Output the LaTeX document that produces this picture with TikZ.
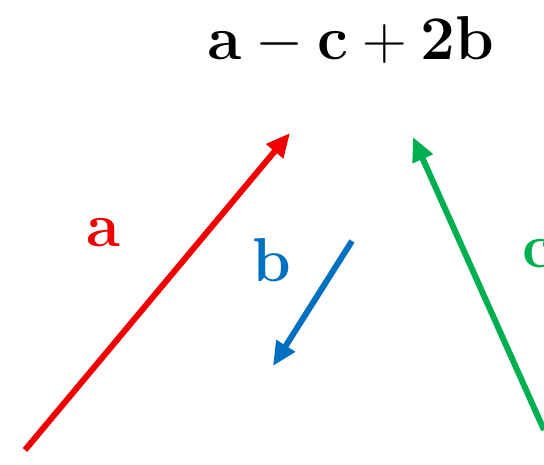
\RequirePackage{fix-cm}
\documentclass[tikz,border=0pt]{standalone}
\usetikzlibrary{arrows.meta}
\definecolor{vecred}{RGB}{240,0,0}
\definecolor{vecblue}{RGB}{0,112,192}
\definecolor{vecgreen}{RGB}{0,176,80}
\tikzset{
  vec/.style={line width=6pt, -{Triangle[length=24pt,width=21pt]}},
  vlabel/.style={inner sep=0pt, anchor=base, font=\fontsize{62}{70}\selectfont\bfseries}
}
\begin{document}
\begin{tikzpicture}[x=1pt,y=1pt]
\useasboundingbox (0,0) rectangle (544,464);
\node[vlabel] (sum) at (351,404) {$\mathbf{a}-\mathbf{c}+\mathbf{2b}$};
\coordinate (a0) at (25,14);
\coordinate (a1) at (290,331);
\coordinate (b0) at (352,223);
\coordinate (b1) at (273,98);
\coordinate (c0) at (544,34);
\coordinate (c1) at (413,327);
\draw[vec, vecred] (a0) -- (a1);
\draw[vec, vecblue] (b0) -- (b1);
\draw[vec, vecgreen] (c0) -- (c1);
\node[vlabel, text=vecred] (alab) at (103,217) {a};
\node[vlabel, text=vecblue] (blab) at (272,182) {b};
\node[vlabel, text=vecgreen, anchor=base west] (clab) at (522,196) {c};
\end{tikzpicture}
\end{document}
